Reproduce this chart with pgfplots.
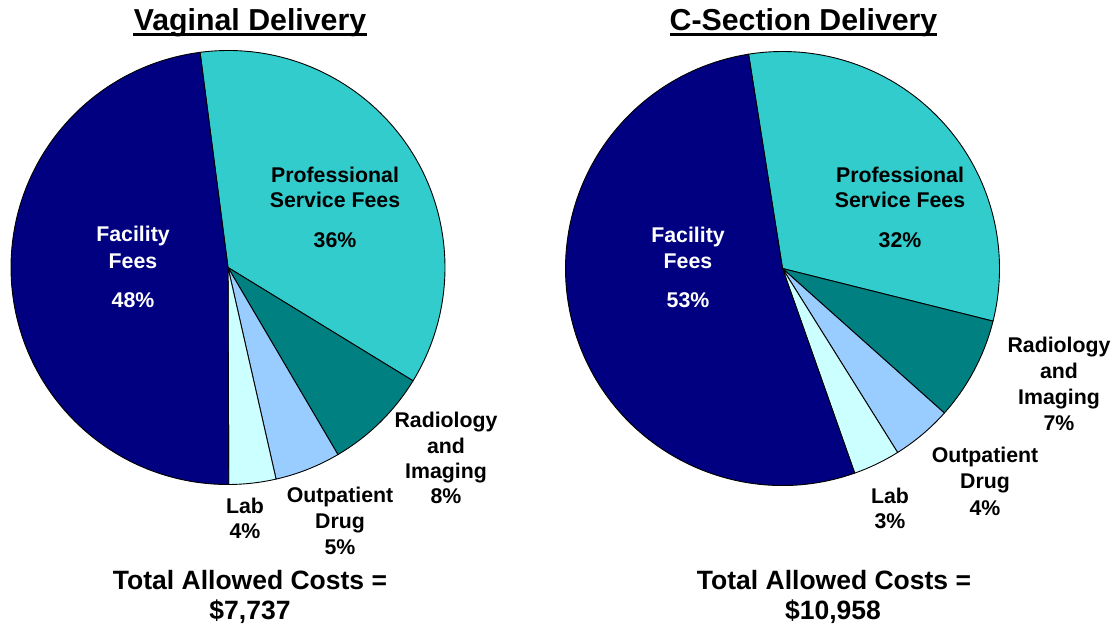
\documentclass[border=0pt]{standalone}
\usepackage{fontspec}
\setmainfont{Liberation Sans}
\usepackage{pgfplots}
\usepackage{pgfplotstable}
\pgfplotsset{compat=1.18}
\definecolor{fac}{RGB}{0,0,128}
\definecolor{prof}{RGB}{51,204,204}
\definecolor{rad}{RGB}{0,128,128}
\definecolor{outp}{RGB}{153,204,255}
\definecolor{lab}{RGB}{204,255,255}

% slice shares (percent), clockwise from the start angle
\pgfplotstableread{
slice value color
Professional 35.8 prof
Radiology 7.8 rad
Outpatient 4.9 outp
Lab 3.5 lab
Facility 48.0 fac
}\vaginaltable
\pgfplotstableread{
slice value color
Professional 31.4 prof
Radiology 7.7 rad
Outpatient 4.5 outp
Lab 3.5 lab
Facility 52.9 fac
}\csectiontable

\newcommand\piechart[5]{% table, cx, cy, start angle (clockwise from top), radius
  \pgfplotstablegetrowsof{#1}%
  \pgfmathtruncatemacro\lastrow{\pgfplotsretval-1}%
  \xdef\cumangle{#4}%
  \foreach \i in {0,...,\lastrow}{%
    \pgfplotstablegetelem{\i}{value}\of{#1}\let\sliceval\pgfplotsretval
    \pgfplotstablegetelem{\i}{color}\of{#1}\let\slicecol\pgfplotsretval
    \pgfmathsetmacro\angA{90-\cumangle}%
    \pgfmathsetmacro\angB{\angA-3.6*\sliceval}%
    \filldraw[fill=\slicecol, draw=black, line width=0.9pt, line join=round]
      (axis cs:#2,#3) -- ++(\angA:#5pt) arc[start angle=\angA, end angle=\angB, radius=#5pt] -- cycle;
    \pgfmathsetmacro\newcum{\cumangle+3.6*\sliceval}%
    \xdef\cumangle{\newcum}%
  }%
}

\newcommand\lbl[4][black]{\node[anchor=base, inner sep=0pt, text=#1, font=\fontsize{21.3}{25}\selectfont\bfseries] at (axis cs:#2,#3) {#4};}
\newcommand\tot[3]{\node[anchor=base, inner sep=0pt, font=\fontsize{26.5}{31}\selectfont\bfseries] at (axis cs:#1,#2) {#3};}

\begin{document}
\begin{tikzpicture}
\begin{axis}[hide axis, scale only axis, width=1118pt, height=625pt,
  xmin=0, xmax=1118, ymin=0, ymax=625, y dir=reverse, clip=false]
\pgfplotsextra{\piechart{\vaginaltable}{228}{267.5}{-7.4}{217}}
\pgfplotsextra{\piechart{\csectiontable}{782.5}{268.5}{-9}{217}}

% titles
\node[anchor=base, inner sep=0pt, font=\fontsize{30.3}{36}\selectfont\bfseries] at (axis cs:250,30) {Vaginal Delivery};
\draw[line width=3pt] (axis cs:133,34) -- (axis cs:367,34);
\node[anchor=base, inner sep=0pt, font=\fontsize{30.3}{36}\selectfont\bfseries] at (axis cs:803.5,30) {C-Section Delivery};
\draw[line width=3pt] (axis cs:670,34) -- (axis cs:937,34);

% left labels
\lbl[white]{133}{241}{Facility}
\lbl[white]{133}{268}{Fees}
\lbl[white]{133}{307}{48\%}
\lbl{335}{182}{Professional}
\lbl{335}{207}{Service Fees}
\lbl{335}{247}{36\%}
\lbl{446}{427}{Radiology}
\lbl{446}{453}{and}
\lbl{446}{478}{Imaging}
\lbl{446}{503}{8\%}
\lbl{340}{502}{Outpatient}
\lbl{340}{528}{Drug}
\lbl{340}{554}{5\%}
\lbl{245}{513}{Lab}
\lbl{245}{538}{4\%}
\tot{250}{589}{Total Allowed Costs =}
\tot{250}{619}{\$7,737}

% right labels
\lbl[white]{688}{242}{Facility}
\lbl[white]{688}{268}{Fees}
\lbl[white]{688}{307}{53\%}
\lbl{900}{182}{Professional}
\lbl{900}{207}{Service Fees}
\lbl{900}{247}{32\%}
\lbl{1059}{352}{Radiology}
\lbl{1059}{378}{and}
\lbl{1059}{404}{Imaging}
\lbl{1059}{430}{7\%}
\lbl{985}{462}{Outpatient}
\lbl{985}{488}{Drug}
\lbl{985}{515}{4\%}
\lbl{890}{503}{Lab}
\lbl{890}{528}{3\%}
\tot{834}{589}{Total Allowed Costs =}
\tot{833}{619}{\$10,958}
\end{axis}
\pgfresetboundingbox
\path (current axis.south west) rectangle (current axis.north east);
\end{tikzpicture}
\end{document}
